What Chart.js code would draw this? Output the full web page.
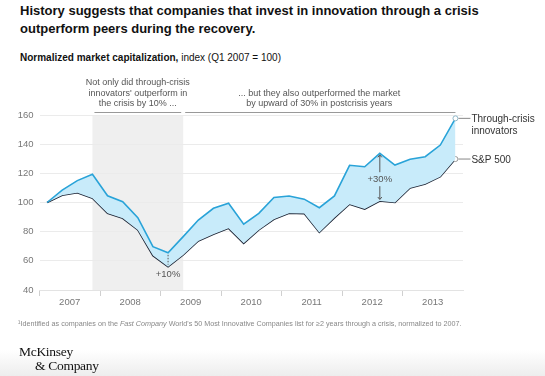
<!DOCTYPE html>
<html>
<head>
<meta charset="utf-8">
<script src="https://cdn.jsdelivr.net/npm/chart.js@4/dist/chart.umd.min.js"></script>
<style>
body { margin: 0; width: 545px; height: 376px; overflow: hidden; position: relative;
  background: linear-gradient(#fff 0, #fff 350px, #ededed 376px);
  font-family: "Liberation Sans", Arial, sans-serif; color: #111; }
#title { position: absolute; left: 20px; top: 2px; font-size: 13px; font-weight: bold; line-height: 17.5px; }
#subtitle { position: absolute; left: 20px; top: 52px; font-size: 10px; line-height: 12px; }
#note { position: absolute; left: 18px; top: 319px; font-size: 7.2px; line-height: 9px; color: #888; white-space: nowrap; }
#logo { position: absolute; left: 19px; top: 345px; font-family: "Liberation Serif", serif; font-size: 13.5px; line-height: 14px; color: #111; letter-spacing: -0.3px; }
#logo span { padding-left: 16px; }
canvas { position: absolute; left: 0; top: 0; }
</style>
</head>
<body>
<div id="title">History suggests that companies that invest in innovation through a crisis<br>outperform peers during the recovery.</div>
<div id="subtitle"><b>Normalized market capitalization,</b> index (Q1 2007 = 100)</div>
<canvas id="chart" width="545" height="376"></canvas>
<div id="note">¹Identified as companies on the <i>Fast Company</i> World's 50 Most Innovative Companies list for ≥2 years through a crisis, normalized to 2007.</div>
<div id="logo">McKinsey<br><span>&amp; Company</span></div>
<script>
const years = ['2007', '2008', '2009', '2010', '2011', '2012', '2013'];
const quarters = ['Q1', 'Q2', 'Q3', 'Q4'];

// quarterly index values, Q1 2007 = 100
const innovators = [100, 108.5, 115, 119.3, 104.6, 100.5, 89.6, 69.7, 65.5, 76.6, 88, 96, 99.5, 85.1,
    92.6, 103.5, 104.5, 102.3, 96.4, 104.5, 125.5, 124.5, 133.7, 125.7, 129.6, 131.4, 139.4, 157.7];
const sp500 = [100, 105, 106.7, 103, 92.6, 89.2, 81.2, 63.6, 56, 64, 73.6, 78.2, 82.3, 72,
    81.2, 88.5, 92.6, 92.4, 79.5, 89.5, 98.8, 95.5, 101, 100, 110, 112.7, 117.7, 129.8];

const seriesNames = ['Through-crisis innovators', 'S&P 500'];
const crisisStart = 'Q4 2007';
const crisisEnd = 'Q2 2009';
const gapLow = 'Q1 2009';   // +10%
const gapHigh = 'Q3 2012';  // +30%

const quarterLabels = [];
years.forEach(y => quarters.forEach(q => quarterLabels.push(q + ' ' + y)));

const blue = '#29a3d8';
const navy = '#1b2232';
const last = quarterLabels.length - 1;

const notes = {
    id: 'notes',
    beforeDraw(chart) {
        const { ctx, chartArea, scales: { x, y } } = chart;
        const x0 = x.getPixelForValue(quarterLabels.indexOf(crisisStart));
        const x1 = x.getPixelForValue(quarterLabels.indexOf(crisisEnd));
        ctx.save();
        ctx.fillStyle = '#efefef';
        ctx.fillRect(x0, y.getPixelForValue(160), x1 - x0, chartArea.bottom - y.getPixelForValue(160));
        ctx.restore();
    },
    afterDatasetsDraw(chart) {
        const { ctx, scales: { x, y } } = chart;
        const x0 = x.getPixelForValue(quarterLabels.indexOf(crisisStart));
        const x1 = x.getPixelForValue(quarterLabels.indexOf(crisisEnd));
        const xEnd = x.getPixelForValue(last);
        ctx.save();
        ctx.font = '9px "Liberation Sans", Arial, sans-serif';
        ctx.fillStyle = '#555';
        ctx.textAlign = 'center';
        ctx.textBaseline = 'middle';

        // header notes
        const cl = (x0 + x1) / 2;
        ctx.fillText('Not only did through-crisis', cl, 82.7);
        ctx.fillText("innovators' outperform in", cl, 93.3);
        ctx.fillText('the crisis by 10% ...', cl, 104);
        const cr = (x1 + xEnd) / 2;
        ctx.fillText('... but they also outperformed the market', cr, 93.3);
        ctx.fillText('by upward of 30% in postcrisis years', cr, 104);
        ctx.strokeStyle = '#999';
        ctx.lineWidth = 1;
        ctx.beginPath();
        ctx.moveTo(x0 + 2, 112.5); ctx.lineTo(x1 - 2, 112.5);
        ctx.moveTo(x1 + 2, 112.5); ctx.lineTo(xEnd, 112.5);
        ctx.stroke();

        // +10%
        const i10 = quarterLabels.indexOf(gapLow);
        const gx = x.getPixelForValue(i10);
        const gTop = y.getPixelForValue(innovators[i10]);
        const gBot = y.getPixelForValue(sp500[i10]);
        ctx.strokeStyle = '#555';
        ctx.setLineDash([1.5, 1.5]);
        ctx.beginPath();
        ctx.moveTo(gx, gTop + 2); ctx.lineTo(gx, gBot - 2);
        ctx.stroke();
        ctx.setLineDash([]);
        ctx.font = '9.5px "Liberation Sans", Arial, sans-serif';
        ctx.fillText('+10%', gx, gBot + 8);

        // +30%
        const i30 = quarterLabels.indexOf(gapHigh);
        const hx = x.getPixelForValue(i30);
        const hTop = y.getPixelForValue(innovators[i30]);
        const hBot = y.getPixelForValue(sp500[i30]);
        const hMid = (hTop + hBot) / 2 + 2;
        ctx.beginPath();
        ctx.moveTo(hx, hTop + 2); ctx.lineTo(hx, hMid - 7);
        ctx.moveTo(hx, hMid + 7); ctx.lineTo(hx, hBot - 2);
        ctx.moveTo(hx - 2, hTop + 4); ctx.lineTo(hx, hTop + 1.5); ctx.lineTo(hx + 2, hTop + 4);
        ctx.moveTo(hx - 2, hBot - 4); ctx.lineTo(hx, hBot - 1.5); ctx.lineTo(hx + 2, hBot - 4);
        ctx.stroke();
        ctx.fillText('+30%', hx, hMid);

        // series labels
        ctx.font = '10px "Liberation Sans", Arial, sans-serif';
        ctx.fillStyle = '#333';
        ctx.textAlign = 'left';
        ctx.strokeStyle = '#888';
        const yA = y.getPixelForValue(innovators[last]);
        const yB = y.getPixelForValue(sp500[last]);
        ctx.beginPath();
        ctx.moveTo(xEnd + 3, yA); ctx.lineTo(xEnd + 15, yA);
        ctx.moveTo(xEnd + 3, yB); ctx.lineTo(xEnd + 15, yB);
        ctx.stroke();
        ctx.fillText('Through-crisis', xEnd + 16, yA + 1);
        ctx.fillText('innovators', xEnd + 16, yA + 13);
        ctx.fillText(seriesNames[1], xEnd + 16, yB + 1);
        ctx.restore();
    }
};

new Chart(document.getElementById('chart'), {
    type: 'line',
    data: {
        labels: quarterLabels,
        datasets: [{
            label: seriesNames[0],
            data: innovators,
            borderColor: blue,
            borderWidth: 1.6,
            backgroundColor: '#c8ebfa',
            fill: '+1',
            tension: 0,
            pointRadius: c => c.dataIndex === last ? 2.5 : 0,
            pointBackgroundColor: '#fff',
            pointBorderColor: '#8fb7c8',
            pointBorderWidth: 1
        }, {
            label: seriesNames[1],
            data: sp500,
            borderColor: navy,
            borderWidth: 1.6,
            fill: false,
            tension: 0,
            pointRadius: c => c.dataIndex === last ? 2.5 : 0,
            pointBackgroundColor: '#fff',
            pointBorderColor: '#999',
            pointBorderWidth: 1
        }]
    },
    options: {
        responsive: false,
        animation: false,
        layout: { padding: { top: 115, right: 82, bottom: 0, left: 0 } },
        plugins: { legend: { display: false }, tooltip: { enabled: false } },
        scales: {
            x: {
                offset: true,
                grid: {
                    offset: true,
                    drawOnChartArea: false,
                    tickLength: 6,
                    color: c => c.index % 4 === 0 ? '#d0d0d0' : 'rgba(0,0,0,0)'
                },
                border: { color: '#e3e3e3' },
                ticks: {
                    autoSkip: false,
                    maxRotation: 0,
                    labelOffset: 7.5,
                    padding: 1,
                    color: '#777',
                    font: { size: 9.5, family: '"Liberation Sans", Arial, sans-serif' },
                    callback: (v, i) => i % 4 === 1 ? quarterLabels[i].slice(3) : ''
                },
                afterFit: s => { s.height = 86; }
            },
            y: {
                min: 40,
                max: 160,
                ticks: {
                    stepSize: 20,
                    padding: 6,
                    color: '#777',
                    font: { size: 9.5, family: '"Liberation Sans", Arial, sans-serif' }
                },
                grid: { color: '#ebebeb', drawTicks: false },
                border: { display: false },
                afterFit: s => { s.width = 39.5; }
            }
        }
    },
    plugins: [notes]
});
</script>
</body>
</html>
